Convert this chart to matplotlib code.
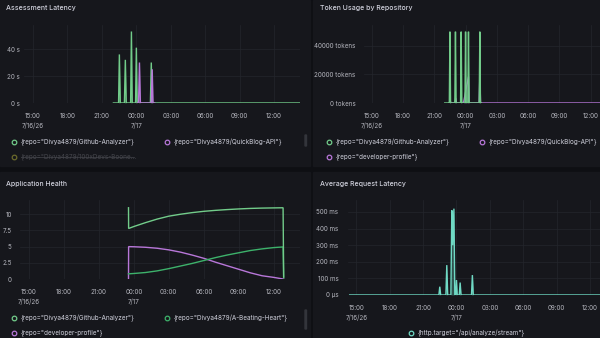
import matplotlib
matplotlib.use("Agg")
import matplotlib.pyplot as plt
from matplotlib.lines import Line2D
from matplotlib.patches import Rectangle, FancyBboxPatch

plt.rcParams['font.family'] = ['Inter', 'DejaVu Sans']

W, H = 600, 338
BG = '#0e0f13'
PANEL = '#16171c'
GRID = '#24262c'
TEXT = '#d0d1dc'
TICK = '#b4b5bd'
GREEN = '#72cc8a'
GREEN2 = '#3db26b'
PURPLE = '#b877d9'
TEAL = '#6fd9c4'
OLIVE = '#6b6a2c'

# x axis in hours since 7/16 00:00
time_range = (14.25, 38.25)
tick_hours = [15, 18, 21, 24, 27, 30, 33, 36]
tick_labels = ['15:00\n7/16/26', '18:00', '21:00', '00:00\n7/17',
               '03:00', '06:00', '09:00', '12:00']

# Assessment Latency (seconds)
lat_gh_t = [22.0, 22.45, 22.52, 22.6, 22.96, 23.04, 23.12, 23.5, 23.57, 23.64,
            23.93, 24.0, 24.07, 25.22, 25.3, 25.37, 38.25]
lat_gh_v = [0, 0, 36, 0, 0, 32, 0, 0, 53, 0, 0, 41, 0, 0, 30, 0, 0]
lat_qb_t = [24.1, 24.19, 24.27, 24.35, 25.3, 25.38, 25.45, 25.6]
lat_qb_v = [0, 0, 30, 0, 0, 25, 0, 0]

# Token Usage (tokens)
tok_gh_t = [22.0, 22.44, 22.5, 22.56, 22.97, 23.03, 23.09, 23.52, 23.58, 23.64,
            23.94, 24.0, 24.06, 24.22, 24.28, 24.34, 25.31, 25.37, 25.43, 25.5]
tok_gh_v = [0, 0, 50000, 0, 0, 50000, 0, 0, 50000, 0,
            0, 50000, 0, 0, 50000, 0, 0, 50000, 0, 0]
tok_qb_t = [22.4, 22.46, 22.52, 22.58, 22.98, 23.05, 23.12, 23.52, 23.58, 23.64,
            23.8, 24.28, 24.34, 25.3, 25.37, 25.44, 38.25]
tok_qb_v = [0, 0, 2000, 0, 0, 3500, 0, 0, 2000, 0,
            0, 18500, 0, 0, 18500, 0, 0]

# Application Health
hl_t = [23.55, 23.56, 24, 25, 26, 27, 28, 29, 30, 31, 32, 33, 34, 35, 36, 36.8, 36.85]
hl_gh = [11, 7.8, 8.1, 8.7, 9.25, 9.7, 10.0, 10.25, 10.45, 10.6, 10.72, 10.82,
         10.9, 10.95, 10.98, 11.0, 0.3]
hl_heart = [0.8, 0.8, 0.85, 1.0, 1.25, 1.6, 2.0, 2.4, 2.85, 3.3, 3.7, 4.05,
            4.4, 4.65, 4.85, 4.95, 0.2]
hl_dev = [0, 5.0, 4.98, 4.9, 4.75, 4.5, 4.15, 3.7, 3.2, 2.6, 2.05, 1.5,
          0.95, 0.5, 0.25, 0.0, 0.0]

# Average Request Latency (ms)
req_t = [14.4, 22.42, 22.5, 22.58, 23.05, 23.13, 23.21, 23.5, 23.58, 23.66,
         23.77, 23.85, 23.93, 24.0, 24.07, 24.25, 24.33, 24.41, 25.35, 25.43,
         25.51, 38.25]
req_v = [0, 0, 50, 0, 0, 180, 0, 0, 510, 300, 520, 0, 0, 90, 0, 0, 75, 0,
         0, 120, 0, 0]


def box(l, t, r, b):
    return [l / W, 1 - b / H, (r - l) / W, (b - t) / H]


def style(ax, yticks, ylabels, ytop, ypad):
    ax.set_facecolor('none')
    ax.set_xlim(*time_range)
    ax.set_ylim(0, ytop)
    ax.set_xticks(tick_hours, tick_labels)
    ax.set_yticks(yticks, ylabels)
    ax.tick_params(length=0, colors=TICK, labelsize=4.5)
    ax.tick_params(axis='x', pad=7.5)
    ax.tick_params(axis='y', pad=ypad)
    for lbl in ax.get_xticklabels():
        lbl.set_linespacing(1.6)
    for s in ax.spines.values():
        s.set_visible(False)
    ax.grid(color=GRID, lw=0.5)
    ax.set_axisbelow(True)


def series(ax, t, v, color, fill=True, lw=1.0):
    if fill:
        ax.fill_between(t, v, color=color, alpha=0.3, lw=0)
    ax.plot(t, v, color=color, lw=lw, solid_joinstyle='miter')


def legend_item(fig, x, y, label, color, tcolor=TEXT, strike=None):
    fy = 1 - y / H
    fig.add_artist(Line2D([x / W], [fy], marker='o', ms=3.3, mfc='none',
                          mec=color, mew=0.9, transform=fig.transFigure))
    fig.text((x + 7) / W, fy, label, color=tcolor, fontsize=4.6, va='center')
    if strike:
        fig.add_artist(Line2D([(x + 7) / W, strike / W], [fy, fy], color=tcolor,
                              lw=0.5, transform=fig.transFigure))


fig = plt.figure(figsize=(6, 3.38), dpi=100, facecolor=BG)

# panel backgrounds
for l, t, r, b in [(0, 0, 310, 166), (313, 0, 600, 166),
                   (0, 172, 310, 338), (313, 172, 600, 338)]:
    fig.add_artist(Rectangle((l / W, 1 - b / H), (r - l) / W, (b - t) / H,
                             transform=fig.transFigure, color=PANEL, zorder=-10))

for x, y0, y1 in [(305, 135, 146), (305, 310, 329)]:
    fig.add_artist(FancyBboxPatch((x / W, 1 - y1 / H), 1.5 / W, (y1 - y0) / H,
                                  boxstyle='round,pad=0', color='#33353b',
                                  transform=fig.transFigure, zorder=-5))

title_kw = dict(color=TEXT, fontsize=5.0, fontweight='medium', va='center')
fig.text(6 / W, 1 - 8 / H, 'Assessment Latency', **title_kw)
fig.text(320 / W, 1 - 8 / H, 'Token Usage by Repository', **title_kw)
fig.text(6 / W, 1 - 184 / H, 'Application Health', **title_kw)
fig.text(320 / W, 1 - 184 / H, 'Average Request Latency', **title_kw)

# Assessment Latency
ax1 = fig.add_axes(box(24.4, 25, 300, 103))
style(ax1, [0, 20, 40], ['0 s', '20 s', '40 s'], 57.8, 3)
series(ax1, lat_gh_t, lat_gh_v, GREEN)
series(ax1, lat_qb_t, lat_qb_v, PURPLE)

# Token Usage
ax2 = fig.add_axes(box(364, 25, 614, 103))
style(ax2, [0, 20000, 40000], ['0 tokens', '20000 tokens', '40000 tokens'], 54700, 6)
series(ax2, tok_qb_t, tok_qb_v, PURPLE)
series(ax2, tok_gh_t, tok_gh_v, GREEN)

# Application Health
ax3 = fig.add_axes(box(20, 200, 300, 279))
style(ax3, [0, 2.5, 5, 7.5, 10], ['0', '2.5', '5', '7.5', '10'], 12.2, 6)
series(ax3, hl_t, hl_dev, PURPLE, fill=False)
series(ax3, hl_t, hl_heart, GREEN2, fill=False)
series(ax3, hl_t, hl_gh, GREEN, fill=False)

# Average Request Latency
ax4 = fig.add_axes(box(348, 200, 615, 295))
style(ax4, [0, 100, 200, 300, 400, 500],
      ['0 µs', '100 ms', '200 ms', '300 ms', '400 ms', '500 ms'], 572, 7)
series(ax4, req_t, req_v, TEAL)

# legends
legend_item(fig, 14, 142, '{repo="Divya4879/Github-Analyzer"}', GREEN)
legend_item(fig, 167, 142, '{repo="Divya4879/QuickBlog-API"}', PURPLE)
legend_item(fig, 14, 157, '{repo="Divya4879/100xDevs-Boone...', OLIVE,
            tcolor='#45464c', strike=134)
legend_item(fig, 329, 142, '{repo="Divya4879/Github-Analyzer"}', GREEN)
legend_item(fig, 482, 142, '{repo="Divya4879/QuickBlog-API"}', PURPLE)
legend_item(fig, 329, 157, '{repo="developer-profile"}', PURPLE)
legend_item(fig, 14, 318, '{repo="Divya4879/Github-Analyzer"}', GREEN)
legend_item(fig, 167, 318, '{repo="Divya4879/A-Beating-Heart"}', GREEN2)
legend_item(fig, 14, 333, '{repo="developer-profile"}', PURPLE)
legend_item(fig, 411, 333, '{http.target="/api/analyze/stream"}', TEAL)

fig.savefig('out.png', dpi=100, facecolor=BG)
